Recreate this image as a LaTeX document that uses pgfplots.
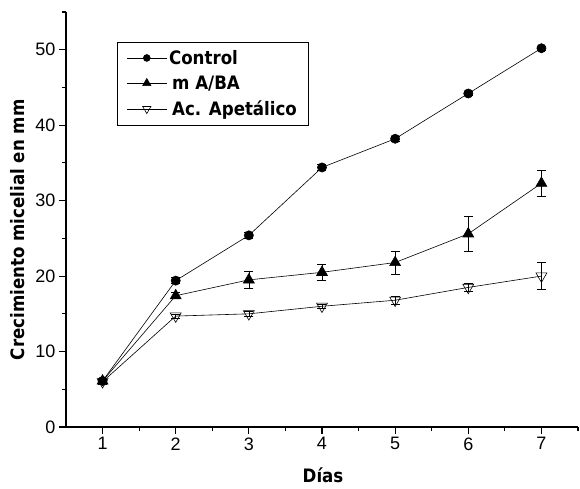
\documentclass[border=0pt]{standalone}
\usepackage{fontspec}
\setmainfont{Liberation Sans}
\newfontfamily\lblfont{DejaVu Sans Condensed}
\usepackage{pgfplots}
\pgfplotsset{compat=1.18}
\begin{document}
\begin{tikzpicture}
\useasboundingbox (-66pt,-61pt) rectangle (514pt,427pt);
\begin{axis}[
  at={(0,0)}, anchor=south west,
  scale only axis,
  width=512pt, height=415pt,
  xmin=0.5, xmax=7.5, ymin=0, ymax=55,
  axis x line=bottom, axis y line=left,
  axis line style={-, line width=1.1pt},
  xtick={1,...,7}, ytick={0,10,...,50},
  minor xtick={1.5,2.5,...,7.5}, minor ytick={5,15,...,55},
  tick align=outside, major tick length=7pt, minor tick length=4pt,
  tick style={line width=1.1pt, black},
  ticklabel style={font=\fontsize{18}{18}\selectfont},
  /pgf/number format/assume math mode=true,
  xlabel={\lblfont\bfseries Días},
  ylabel={\lblfont\bfseries Crecimiento micelial en mm},
  label style={font=\fontsize{18.5}{19}\selectfont},
  xlabel style={at={(axis description cs:0.502,-0.116)}, anchor=center},
  ylabel style={at={(axis description cs:-0.094,0.475)}, anchor=center},
  legend style={at={(0.1,0.928)}, anchor=north west, draw=black, line width=0.6pt,
    font=\lblfont\bfseries\fontsize{18.5}{21}\selectfont, inner xsep=9pt, inner ysep=6pt,
    row sep=6pt, /tikz/every even column/.append style={column sep=2pt}},
  legend cell align=left,
  legend image code/.code={\draw[mark repeat=2, mark phase=2, /tikz/every mark/.append style={scale=0.75}]
    plot coordinates {(0pt,0pt) (20pt,0pt) (40pt,0pt)};},
]
\addplot[black, line width=0.6pt, mark=*, mark size=4.6pt,
  error bars/.cd, y dir=both, y explicit,
  error bar style={line width=0.6pt}, error mark options={rotate=90, mark size=4.5pt, line width=0.6pt}]
coordinates {
(1,6.1) +- (0,0.3)
(2,19.4) +- (0,0.4)
(3,25.4) +- (0,0.4)
(4,34.4) +- (0,0.4)
(5,38.2) +- (0,0.3)
(6,44.2) +- (0,0.3)
(7,50.2) +- (0,0.3)
};
\addlegendentry{Control}
\addplot[black, line width=0.6pt, mark=triangle*, mark size=6.3pt, mark options={fill=black},
  error bars/.cd, y dir=both, y explicit,
  error bar style={line width=0.6pt}, error mark options={rotate=90, mark size=4.5pt, line width=0.6pt}]
coordinates {
(1,6.1) +- (0,0.3)
(2,17.4) +- (0,0.4)
(3,19.5) +- (0,1.1)
(4,20.5) +- (0,1.1)
(5,21.8) +- (0,1.5)
(6,25.6) +- (0,2.3)
(7,32.3) +- (0,1.7)
};
\addlegendentry{\,m A/BA}
\addplot[black, line width=0.6pt, mark=triangle, mark size=6.3pt, mark options={rotate=180, fill=white},
  error bars/.cd, y dir=both, y explicit,
  error bar style={line width=0.6pt}, error mark options={rotate=90, mark size=4.5pt, line width=0.6pt}]
coordinates {
(1,6.0) +- (0,0.3)
(2,14.7) +- (0,0.3)
(3,15.0) +- (0,0.3)
(4,16.0) +- (0,0.3)
(5,16.8) +- (0,0.5)
(6,18.5) +- (0,0.5)
(7,20.0) +- (0,1.8)
};
\addlegendentry{\,Ac. Apetálico}
\end{axis}
\end{tikzpicture}
\end{document}
